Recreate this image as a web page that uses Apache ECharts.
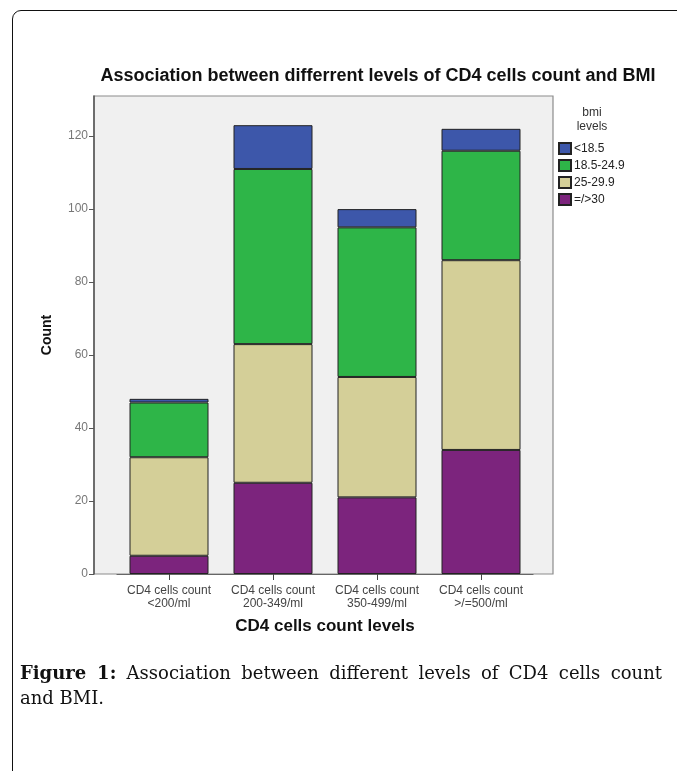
<!DOCTYPE html>
<html>
<head>
<meta charset="utf-8">
<script src="https://cdn.jsdelivr.net/npm/echarts@6/dist/echarts.min.js"></script>
<style>
  html, body { margin: 0; padding: 0; background: #fff; }
  #wrap { position: relative; width: 677px; height: 771px; overflow: hidden; background: #fff; }
  #frame { position: absolute; left: 12px; top: 10px; width: 720px; height: 820px;
           border: 1.5px solid #111; border-radius: 9px; box-sizing: border-box; }
  #chart { position: absolute; left: 0; top: 0; width: 677px; height: 771px; }
  #caption { position: absolute; left: 20px; top: 660px; width: 642px;
             font-family: "DejaVu Serif", "Liberation Serif", serif; font-size: 18px;
             line-height: 25px; color: #111; }
  #caption .l1 { text-align: justify; text-align-last: justify; white-space: nowrap; display: block; }
  #caption b { font-weight: bold; }
</style>
</head>
<body>
<div id="wrap">
  <div id="frame"></div>
  <div id="chart"></div>
  <div id="caption"><span class="l1"><b>Figure 1:</b> Association between different levels of CD4 cells count</span>and BMI.</div>
</div>
<script>
// ---- data ----
const categories = ["CD4 cells count\n<200/ml", "CD4 cells count\n200-349/ml", "CD4 cells count\n350-499/ml", "CD4 cells count\n>/=500/ml"];
const seriesNames = ["=/>30", "25-29.9", "18.5-24.9", "<18.5"];
const obese = [5, 25, 21, 34];
const overweight = [27, 38, 33, 52];
const normal = [15, 48, 41, 30];
const under = [1, 12, 5, 6];
const yTicks = [0, 20, 40, 60, 80, 100, 120];
const legendOrder = ["<18.5", "18.5-24.9", "25-29.9", "=/>30"];

const colors = { "=/>30": "#7c247d", "25-29.9": "#d4cf98", "18.5-24.9": "#2eb548", "<18.5": "#3d57aa" };
const valuesByName = { "=/>30": obese, "25-29.9": overweight, "18.5-24.9": normal, "<18.5": under };

const chart = echarts.init(document.getElementById('chart'));
const font = '"Liberation Sans", Arial, sans-serif';

chart.setOption({
  animation: false,
  backgroundColor: 'transparent',
  textStyle: { fontFamily: font },
  title: {
    text: 'Association between differrent levels of CD4 cells count and BMI',
    left: 378, top: 67, textAlign: 'center', padding: 0,
    textStyle: { fontSize: 18, fontWeight: 'bold', color: '#111', fontFamily: font }
  },
  grid: { left: 117, right: 144, top: 96, bottom: 197, containLabel: false },
  legend: {
    orient: 'vertical', left: 558, top: 142, padding: 0,
    itemWidth: 12, itemHeight: 11, itemGap: 4,
    icon: 'rect',
    data: legendOrder,
    textStyle: { fontSize: 12, lineHeight: 12, color: '#222', fontFamily: font, padding: [0, 0, 0, -2] },
    selectedMode: false
  },
  graphic: [
    { type: 'rect', z: -100, silent: true,
      shape: { x: 94, y: 96, width: 459, height: 478 },
      style: { fill: '#f0f0f0', stroke: '#8c8c8c', lineWidth: 1.2 } },
    { type: 'text', x: 592, y: 106, silent: true,
      style: { text: 'bmi\nlevels', fontSize: 12, fill: '#333', fontFamily: font, align: 'center', lineHeight: 14 } }
  ],
  xAxis: {
    type: 'category',
    data: categories,
    name: 'CD4 cells count levels',
    nameLocation: 'middle', nameGap: 44,
    nameTextStyle: { fontSize: 17, fontWeight: 'bold', color: '#111', fontFamily: font },
    axisLine: { show: true, lineStyle: { color: '#666', width: 1.2 } },
    axisTick: { show: true, alignWithLabel: true, length: 6, lineStyle: { color: '#444' } },
    axisLabel: { fontSize: 12, color: '#444', lineHeight: 13, margin: 10, interval: 0, fontFamily: font }
  },
  yAxis: {
    type: 'value', min: 0, max: 131, interval: 20, offset: 23,
    name: 'Count', nameLocation: 'middle', nameGap: 40, nameRotate: 90,
    nameTextStyle: { fontSize: 14, fontWeight: 'bold', color: '#111', fontFamily: font },
    axisLine: { show: true, lineStyle: { color: '#555', width: 1.5 } },
    axisTick: { show: true, length: 5, lineStyle: { color: '#555' } },
    splitLine: { show: false },
    axisLabel: { fontSize: 12, color: '#777', margin: 6, showMaxLabel: false,
      formatter: v => (yTicks.indexOf(v) >= 0 ? String(v) : '') }
  },
  series: seriesNames.map(n => ({
    name: n, type: 'bar', stack: 'bmi', barWidth: 79,
    data: valuesByName[n],
    itemStyle: { color: colors[n], borderColor: '#222', borderWidth: 1 },
    emphasis: { disabled: true }
  }))
});
</script>
</body>
</html>
